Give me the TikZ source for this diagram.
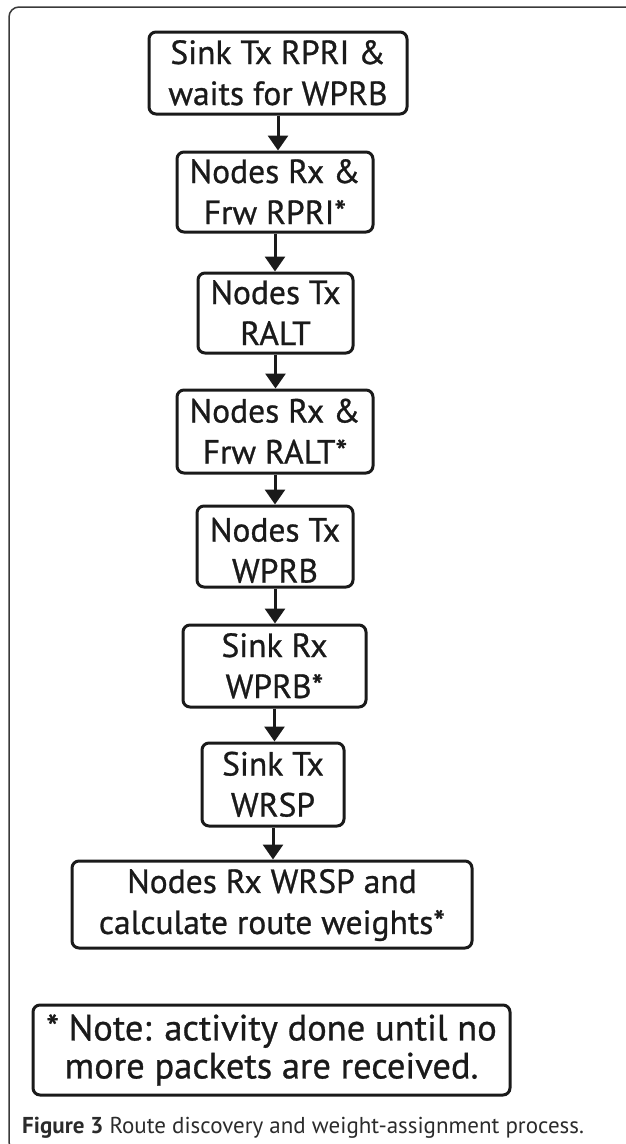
\documentclass[tikz,border=0pt]{standalone}
\usepackage{fontspec}
\setmainfont{PT Sans}
\newfontfamily\boxfont{PT Sans}[FakeBold=0.8]
\usetikzlibrary{arrows.meta}
\definecolor{inkcol}{HTML}{1A1A1A}
\definecolor{framecol}{HTML}{3A3A3A}
\definecolor{captioncol}{HTML}{2B2B2B}
% struts that fix the vertical extent of the two-line labels
\newcommand\hiline[1][25pt]{\rule{0pt}{#1}}
\newcommand\loline{\rule[-2pt]{0pt}{2pt}}
\tikzset{
  stepbox/.style={draw=inkcol, line width=3pt, rounded corners=7pt, align=center,
    inner sep=0pt, text=inkcol, font=\boxfont\fontsize{33.5}{41}\selectfont},
  notebox/.style={stepbox, font=\boxfont\fontsize{36.5}{38}\selectfont},
  flow/.style={draw=inkcol, line width=3pt, -{Triangle[width=20pt,length=15pt]}},
}
\begin{document}
\begin{tikzpicture}[x=1pt,y=-1pt]
\useasboundingbox (0,0) rectangle (625,1144);
% page frame
\draw[framecol, line width=1.5pt, rounded corners=10pt] (640,7) -- (9,7) -- (9,1152) -- (40,1152);

% process steps
\node[stepbox, minimum width=258pt, minimum height=82pt] (s1) at (278,73)
  {\hiline Sink Tx RPRI \&\\waits for WPRB\loline};
\node[stepbox, minimum width=196pt, minimum height=80pt] (s2) at (275,192)
  {\hiline Nodes Rx \&\\Frw RPRI*\loline};
\node[stepbox, minimum width=155pt, minimum height=80pt] (s3) at (275.5,313)
  {\hiline Nodes Tx\\RALT\loline};
\node[stepbox, minimum width=196pt, minimum height=83pt] (s4) at (275,431.5)
  {\hiline Nodes Rx \&\\Frw RALT*\loline};
\node[stepbox, minimum width=156pt, minimum height=81pt] (s5) at (275,546.5)
  {\hiline[33pt]Nodes Tx\\WPRB\loline};
\node[stepbox, minimum width=183pt, minimum height=82pt] (s6) at (274.5,666)
  {\hiline Sink Rx\\WPRB*\loline};
\node[stepbox, minimum width=142pt, minimum height=83pt] (s7) at (273,784.5)
  {\hiline Sink Tx\\WRSP\loline};
\node[stepbox, minimum width=400pt, minimum height=87pt] (s8) at (272,904.5)
  {\hiline Nodes Rx WRSP and\\calculate route weights*\loline};

% footnote box
\node[notebox, minimum width=477pt, minimum height=90pt] (note) at (271.5,1050)
  {\hiline * Note: activity done until no\\more packets are received.\loline};

% connectors
\draw[flow] (s1.south) -- (s1.south |- s2.north);
\draw[flow] (s2.south) -- (s2.south |- s3.north);
\draw[flow] (s3.south) -- (s3.south |- s4.north);
\draw[flow] (s4.south) -- (s4.south |- s5.north);
\draw[flow] (s5.south) -- (s5.south |- s6.north);
\draw[flow] (s6.south) -- (s6.south |- s7.north);
\draw[flow] (s7.south) -- (s7.south |- s8.north);

% caption
\node[anchor=base west, inner sep=0pt, text=captioncol, font=\fontsize{23}{27}\selectfont] (cap) at (22,1133)
  {\textbf{Figure 3} Route discovery and weight-assignment process.};
\end{tikzpicture}
\end{document}
